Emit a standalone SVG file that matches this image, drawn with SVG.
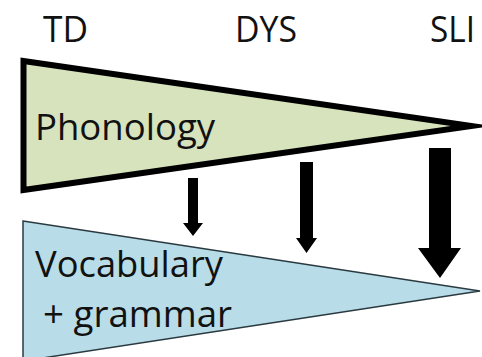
<svg xmlns="http://www.w3.org/2000/svg" width="482" height="357" viewBox="0 0 482 357">
<style>
text{font-family:"Open Sans","Liberation Sans",sans-serif;font-size:36px;fill:#111}
.arrow{fill:#000}
</style>
<rect width="482" height="357" fill="#fff"/>
<g id="labels">
<text x="43" y="42" textLength="45" lengthAdjust="spacingAndGlyphs">TD</text>
<text x="235" y="42" textLength="62" lengthAdjust="spacingAndGlyphs">DYS</text>
<text x="430" y="42" textLength="45" lengthAdjust="spacingAndGlyphs">SLI</text>
</g>
<g id="vocabulary">
<polygon points="23,221 480,291 23,361" fill="#b9dde8" stroke="#2a3a40" stroke-width="1.5"/>
<text x="35" y="277" textLength="188" lengthAdjust="spacingAndGlyphs">Vocabulary</text>
<text x="43" y="327" textLength="189" lengthAdjust="spacingAndGlyphs">+ grammar</text>
</g>
<g id="phonology">
<polygon points="23.5,61 472,126 23.5,190" fill="#d6e3bc" stroke="#000" stroke-width="6" stroke-miterlimit="20"/>
<text x="35" y="140" textLength="180" lengthAdjust="spacingAndGlyphs">Phonology</text>
</g>
<g id="connectors">
<polygon class="arrow" points="188,178 198,178 198,223 203,223 193,236 183,223 188,223"/>
<polygon class="arrow" points="300,162 313,162 313,238 317,238 306.5,253 296,238 300,238"/>
<polygon class="arrow" points="429,148 451,148 451,248 461,248 440,278 418,248 429,248"/>
</g>
</svg>
